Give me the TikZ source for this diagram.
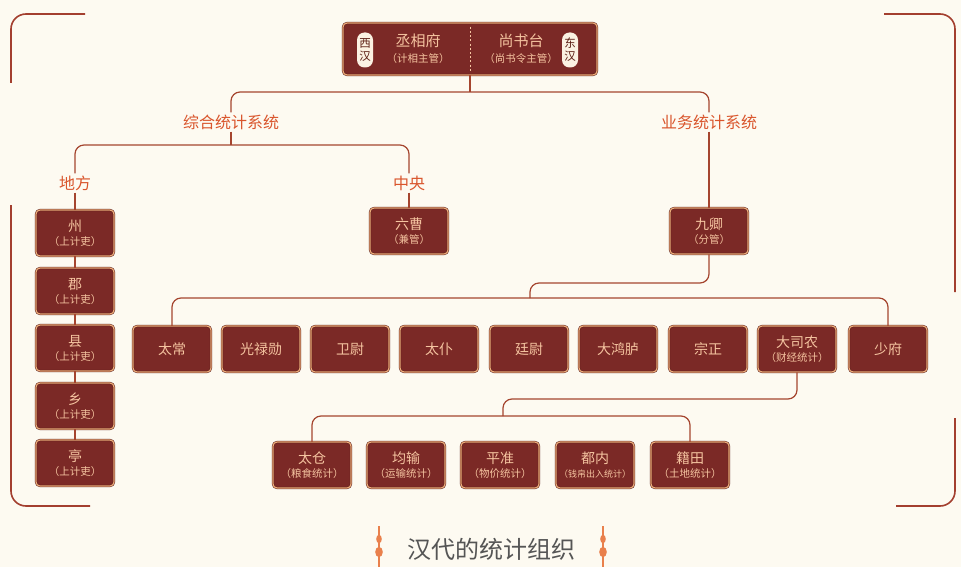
\documentclass[tikz,border=0pt]{standalone}
\usepackage{fontspec}
\newfontfamily\cjk{Noto Sans CJK SC}
\definecolor{bg}{HTML}{FDFAF1}
\definecolor{boxred}{HTML}{7B2926}
\definecolor{boxedge}{HTML}{EDAA78}
\definecolor{boxtxt}{HTML}{F5C4A0}
\definecolor{conn}{HTML}{A5452F}
\definecolor{lbltxt}{HTML}{D9552C}
\definecolor{brk}{HTML}{A33F2F}
\definecolor{ovalfill}{HTML}{FBF1E2}
\definecolor{ovaltxt}{HTML}{5A1C12}
\definecolor{titletxt}{HTML}{555555}
\definecolor{knot}{HTML}{E9804C}
\begin{document}
\begin{tikzpicture}[x=1pt,y=-1pt,
  boxbase/.style={rectangle, rounded corners=4pt, fill=boxred, draw=boxred!75!black,
    double=boxedge, double distance=1.2pt, line width=0.5pt},
  box/.style={boxbase, minimum width=78pt, minimum height=46pt, inner sep=1pt,
    text=boxtxt, align=center, font=\cjk\fontsize{14}{16}\selectfont},
  topbox/.style={boxbase, minimum width=254pt, minimum height=52pt},
  toptxt/.style={text=boxtxt, align=center, inner sep=0pt, font=\cjk\fontsize{15}{18}\selectfont},
  oval/.style={rectangle, rounded corners=7.5pt, fill=ovalfill, minimum width=16pt, minimum height=35pt,
    inner sep=0pt, text=ovaltxt, align=center, font=\cjk\fontsize{11.5}{13}\selectfont},
  lbl/.style={text=lbltxt, inner sep=2pt, font=\cjk\fontsize{16}{18}\selectfont},
  connline/.style={draw=conn, line width=1.2pt, rounded corners=9pt},
  bracket/.style={draw=brk, line width=1.6pt, rounded corners=15pt},
]
\fill[bg] (0,0) rectangle (961,567);
\useasboundingbox (0,0) rectangle (961,567);
\newcommand\sm[1]{\\[-2pt]{\fontsize{10.5}{12}\selectfont #1}}
\newcommand\smx[1]{\\[-2pt]{\fontsize{9}{12}\selectfont #1}}

% frame brackets
\draw[bracket] (85,14) -- (11,14) -- (11,83);
\draw[bracket] (11,205) -- (11,506) -- (90,506);
\draw[bracket] (884,14) -- (955,14) -- (955,292);
\draw[bracket] (955,418) -- (955,506) -- (896,506);

% top box
\node[topbox] (top) at (470,49) {};
\node[oval] (xh) at (365,50) {西\\汉};
\node[oval] (dh) at (570,50) {东\\汉};
\node[toptxt] (cx) at (418,49) {丞相府\sm{（计相主管）}};
\node[toptxt] (sst) at (521,49) {尚书台\sm{（尚书令主管）}};
\draw[boxtxt, line width=0.9pt, dash pattern=on 2pt off 2.2pt] ([yshift=-4pt]top.north) -- ([yshift=4pt]top.south);

% labels
\node[lbl] (zh) at (231,122) {综合统计系统};
\node[lbl] (yw) at (709,122) {业务统计系统};
\node[lbl] (df) at (75,183) {地方};
\node[lbl] (zy) at (409,183) {中央};

% left column
\node[box] (zhou) at (75,233) {州\sm{（上计吏）}};
\node[box] (jun) at (75,291) {郡\sm{（上计吏）}};
\node[box] (xian) at (75,348) {县\sm{（上计吏）}};
\node[box] (xiang) at (75,406) {乡\sm{（上计吏）}};
\node[box] (ting) at (75,463) {亭\sm{（上计吏）}};

\node[box] (lc) at (409,231) {六曹\sm{（兼管）}};
\node[box] (jq) at (709,231) {九卿\sm{（分管）}};

% nine ministers
\node[box] (b1) at (172,349) {太常};
\node[box] (b2) at (261,349) {光禄勋};
\node[box] (b3) at (350,349) {卫尉};
\node[box] (b4) at (439,349) {太仆};
\node[box] (b5) at (529,349) {廷尉};
\node[box] (b6) at (618,349) {大鸿胪};
\node[box] (b7) at (708,349) {宗正};
\node[box] (b8) at (797,349) {大司农\sm{（财经统计）}};
\node[box] (b9) at (888,349) {少府};

% bottom row
\node[box] (c1) at (312,465) {太仓\sm{（粮食统计）}};
\node[box] (c2) at (406,465) {均输\sm{（运输统计）}};
\node[box] (c3) at (500,465) {平准\sm{（物价统计）}};
\node[box] (c4) at (595,465) {都内\smx{（钱帛出入统计）}};
\node[box] (c5) at (690,465) {籍田\sm{（土地统计）}};

% connectors
\coordinate (j1) at (470,92);
\draw[connline] (top.south) -- (j1);
\draw[connline] (zh.north) |- (j1) -| (yw.north);
\coordinate (j2) at (231,145);
\draw[connline] (zh.south) -- (j2);
\draw[connline] (df.north) |- (j2) -| (zy.north);
\draw[connline] (df.south) -- (zhou.north);
\draw[connline] (zy.south) -- (lc.north);
\draw[connline] (yw.south) -- (jq.north);
\draw[connline] (zhou.south) -- (jun.north);
\draw[connline] (jun.south) -- (xian.north);
\draw[connline] (xian.south) -- (xiang.north);
\draw[connline] (xiang.south) -- (ting.north);

\coordinate (k1) at (530,283);
\coordinate (j3) at (530,298);
\draw[connline] (jq.south) |- (k1) -- (j3);
\draw[connline] (b1.north) |- (j3) -| (b9.north);

\coordinate (k2) at (503,399);
\coordinate (j4) at (503,416);
\draw[connline] (b8.south) |- (k2) -- (j4);
\draw[connline] (c1.north) |- (j4) -| (c5.north);

% title
\node[text=titletxt, font=\cjk\fontsize{24}{26}\selectfont] (title) at (491,549) {汉代的统计组织};
\foreach \xx in {379,603}{
  \draw[knot, line width=1.3pt] (\xx,526) -- (\xx,567);
  \fill[knot] (\xx,539) ellipse (2.8pt and 4.2pt);
  \fill[knot] (\xx,552) ellipse (3.8pt and 5.2pt);
}
\end{tikzpicture}
\end{document}
